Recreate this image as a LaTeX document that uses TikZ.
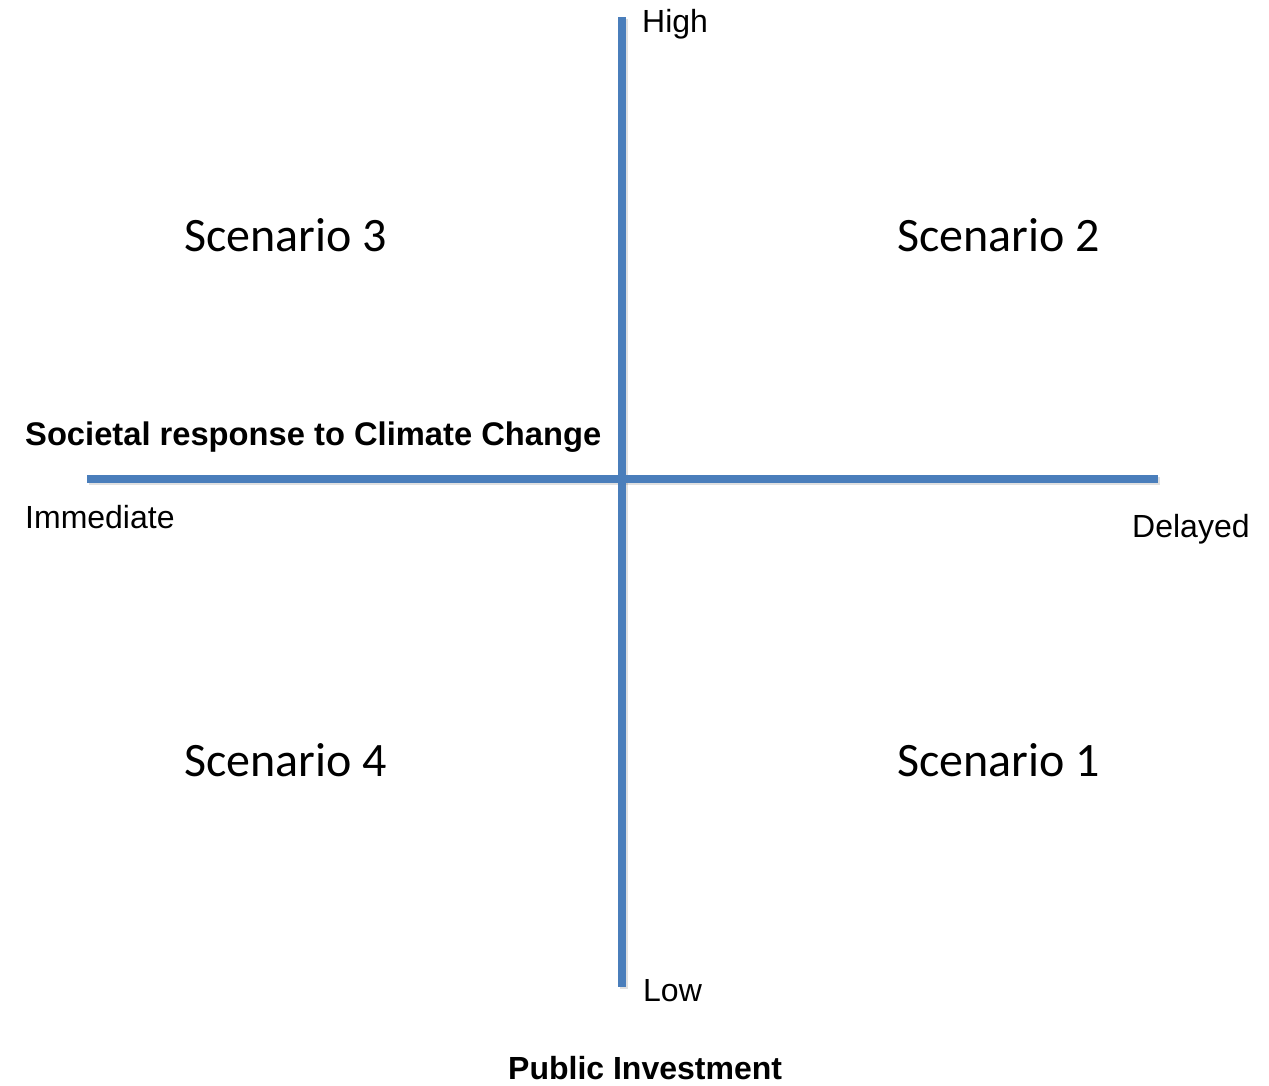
\documentclass[tikz,border=0pt]{standalone}
\usepackage{fontspec}
\setmainfont{Liberation Sans}
\newfontfamily\scenariofont{Carlito}
\begin{document}
\begin{tikzpicture}[x=1pt,y=-1pt,
  axisline/.style={line width=8pt,draw={rgb,255:red,74;green,126;blue,187}},
  axisshadow/.style={line width=8pt,draw=black,opacity=0.12},
  ticklabel/.style={anchor=base west,inner sep=0pt,font=\fontsize{32}{38}\selectfont},
  axistitle/.style={anchor=base west,inner sep=0pt,font=\fontsize{32}{38}\selectfont\bfseries},
  scenario/.style={anchor=base west,inner sep=0pt,font=\scenariofont\fontsize{48}{58}\selectfont}]
  \useasboundingbox[fill=white] (0,0) rectangle (1269,1085);

  % axis end points
  \coordinate (top) at (622,17);
  \coordinate (bottom) at (622,987);
  \coordinate (left) at (87,479);
  \coordinate (right) at (1158,479);

  % soft drop shadow under the axes
  \draw[axisshadow] ([shift={(1.5,2)}]left) -- ([shift={(1.5,2)}]right);
  \draw[axisshadow] ([shift={(1.5,2)}]top) -- ([shift={(1.5,2)}]bottom);

  % axes
  \draw[axisline] (left) -- (right);
  \draw[axisline] (top) -- (bottom);

  % axis labels
  \node[ticklabel] (high) at (642,32) {High};
  \node[ticklabel] (low) at (643,1001) {Low};
  \node[ticklabel] (immediate) at (25,528) {Immediate};
  \node[ticklabel] (delayed) at (1132,537) {Delayed};
  \node[axistitle,font=\fontsize{32.7}{38}\selectfont\bfseries] (societal) at (25,445) {Societal response to Climate Change};
  \node[axistitle] (public) at (508,1079) {Public Investment};

  % quadrant labels
  \node[scenario] (s3) at (184,251) {Scenario 3};
  \node[scenario] (s2) at (897,251) {Scenario 2};
  \node[scenario] (s4) at (184,776) {Scenario 4};
  \node[scenario] (s1) at (897,776) {Scenario 1};
\end{tikzpicture}
\end{document}
